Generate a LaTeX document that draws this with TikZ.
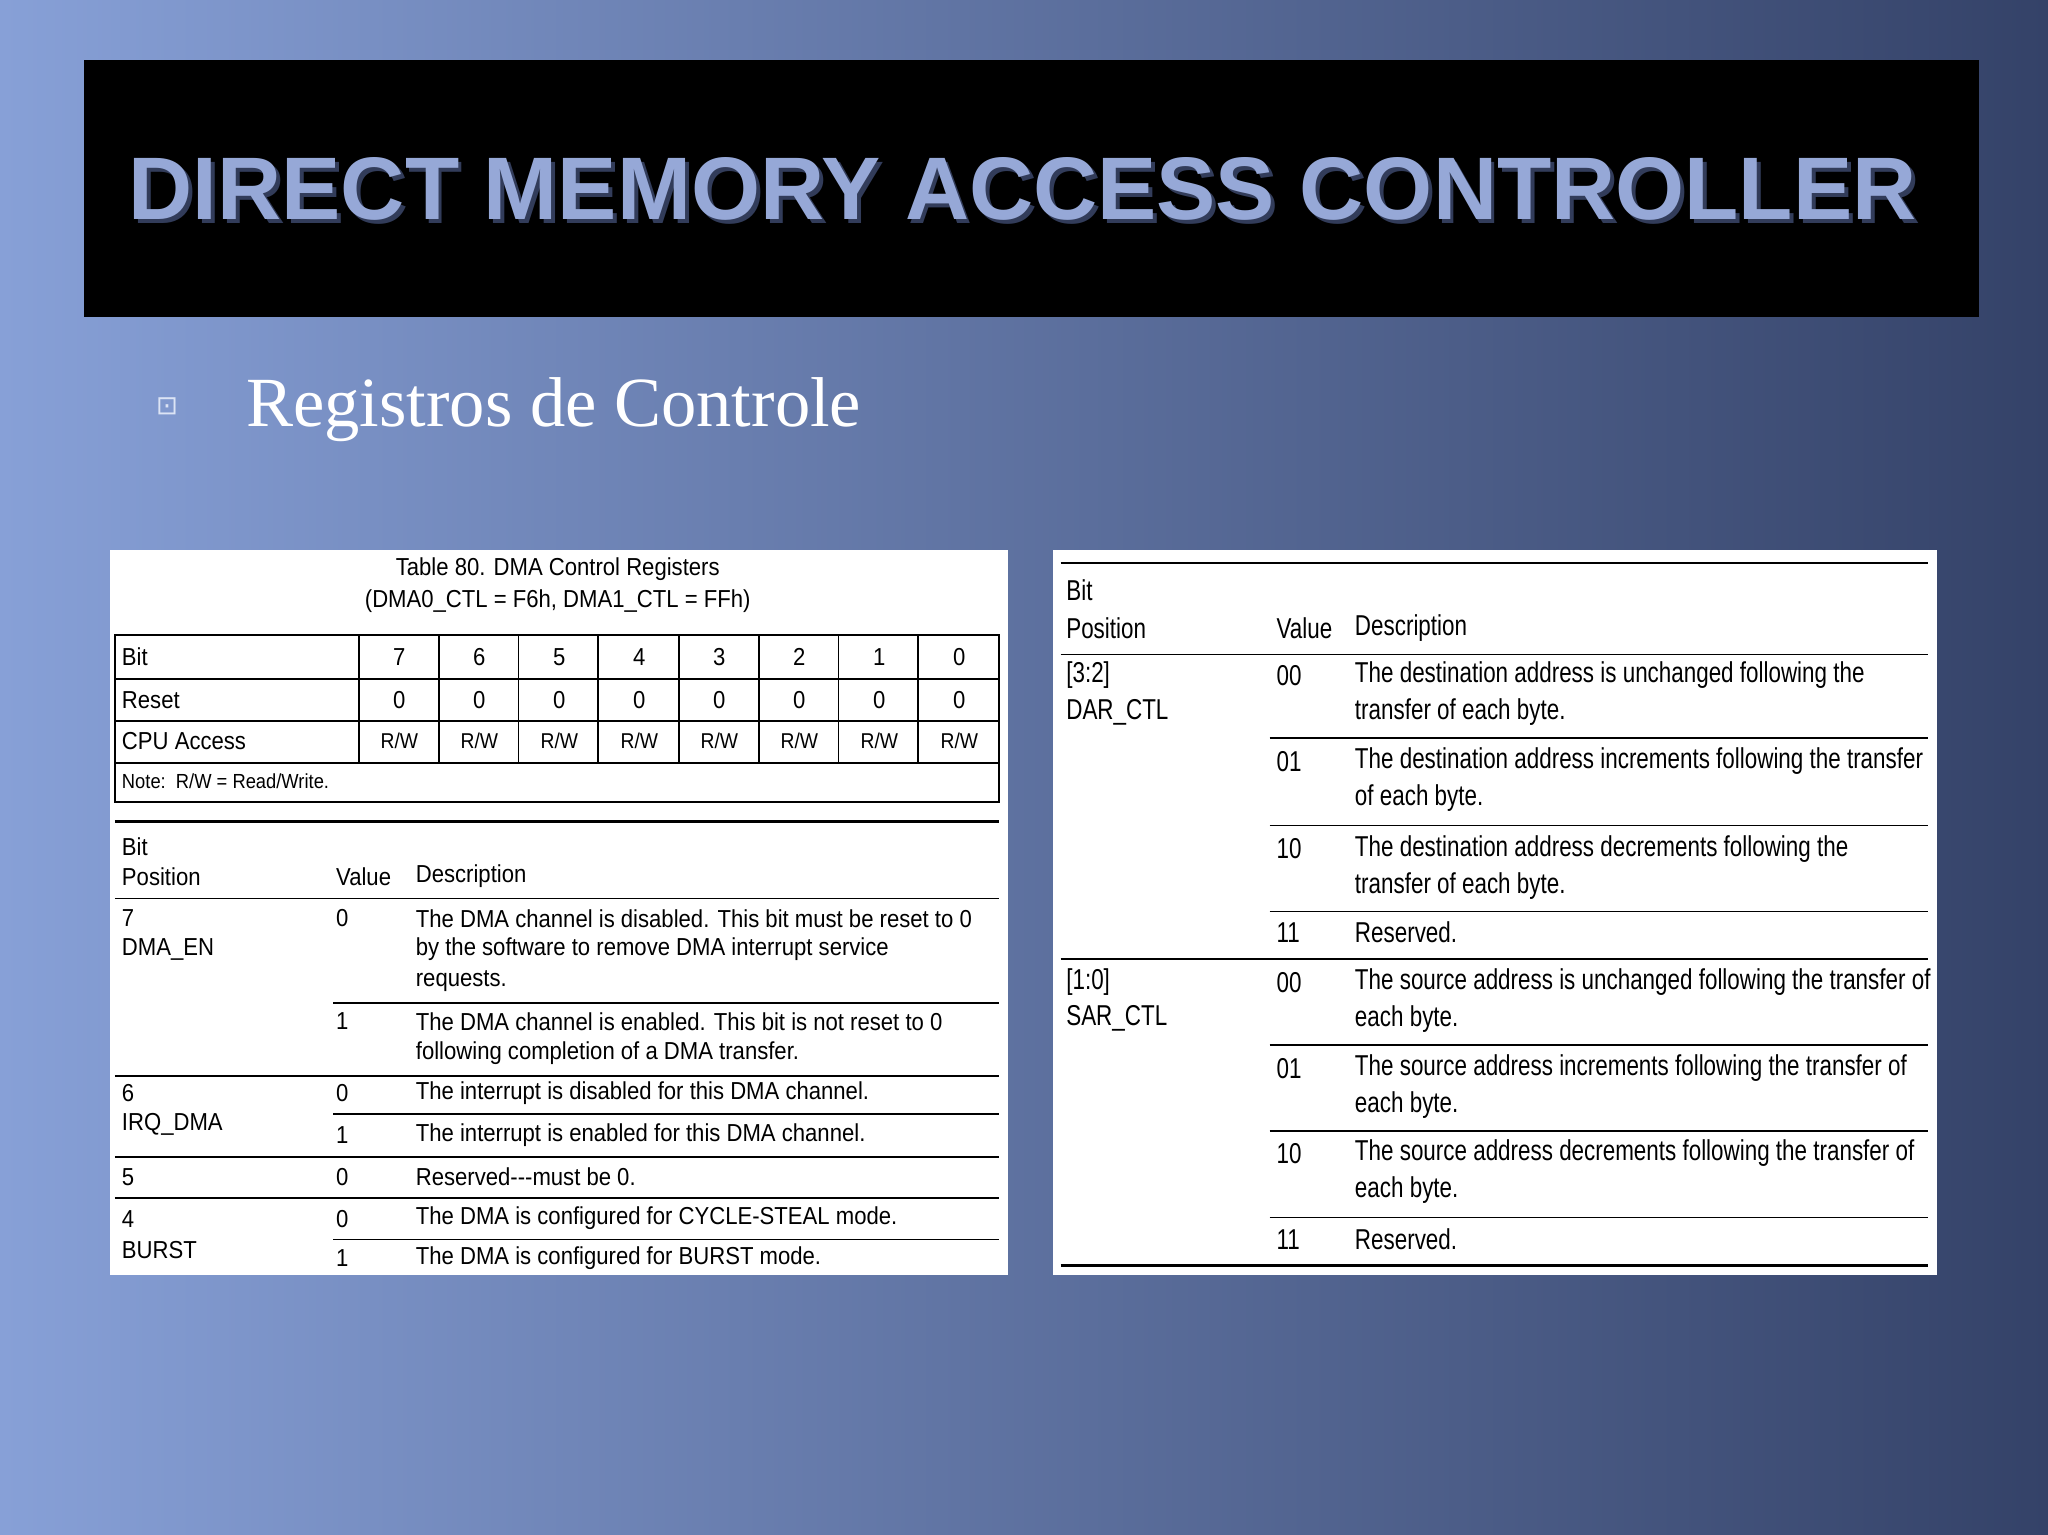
\documentclass[tikz,border=0pt]{standalone}
\usepackage{fontspec}
\setmainfont{Liberation Serif}
\newfontfamily\tabL[FakeStretch=0.9]{Liberation Sans}
\newfontfamily\tabR[FakeStretch=0.78]{Liberation Sans}
\newfontfamily\ttl{Liberation Sans}
\newfontfamily\dv{DejaVu Sans}
\begin{document}
\begin{tikzpicture}[x=0.5pt,y=-0.5pt,
  lt/.style={anchor=west,inner sep=0pt,font=\tabL\fontsize{9.4}{11}\selectfont,text=black},
  ltc/.style={lt,anchor=center},
  rt/.style={anchor=west,inner sep=0pt,font=\tabR\fontsize{11}{13}\selectfont,text=black},
  rl/.style={black,line width=0.6pt},
  rlt/.style={black,line width=1.1pt}]
\useasboundingbox (0,0) rectangle (1568,1175);
\shade[shading angle=-60,left color={rgb,255:red,135;green,160;blue,215},right color={rgb,255:red,52;green,66;blue,104}] (0,0) rectangle (1568,1175);
\fill[black] (64,46) rectangle (1515,243);
\node[text={rgb,255:red,50;green,60;blue,90},font=\ttl\bfseries\fontsize{34}{36}\selectfont] (ts) at (786,148) {DIRECT MEMORY ACCESS CONTROLLER};
\node[text={rgb,255:red,150;green,168;blue,215},font=\ttl\bfseries\fontsize{34}{36}\selectfont] (tt) at (783,145) {DIRECT MEMORY ACCESS CONTROLLER};
\node[text={rgb,255:red,220;green,228;blue,245},font=\dv\fontsize{10}{12}\selectfont] (bul) at (128,311) {⊡};
\node[anchor=west,text=white,font=\fontsize{27}{30}\selectfont,inner sep=0pt] (sub) at (188,314) {Registros de Controle};
% left box
\fill[white] (84,421) rectangle (772,976);
\node[ltc] (c1) at (427,436) {Table 80. DMA Control Registers};
\node[ltc] (c2) at (427,460) {(DMA0\_CTL = F6h, DMA1\_CTL = FFh)};
\draw[rl] (88,486) rectangle (765,614);
\foreach \yy in {520,552,584} \draw[rl] (88,\yy) -- (765,\yy);
\foreach \xx in {275,336,397,458,520,581,642,703} \draw[rl] (\xx,486) -- (\xx,584);
\node[lt] (bt) at (93,503) {Bit};
\node[lt] (rs) at (93,536) {Reset};
\node[lt] (ca) at (93,567) {CPU Access};
\foreach \b [count=\i] in {7,6,5,4,3,2,1,0}{
  \node[ltc] (b\i) at ({244.5+61.25*\i},503) {\b};
  \node[ltc] (r\i) at ({244.5+61.25*\i},536) {0};
  \node[ltc,font=\tabL\fontsize{8.2}{9}\selectfont] (a\i) at ({244.5+61.25*\i},567) {R/W};}
\node[lt,font=\tabL\fontsize{7.8}{9}\selectfont] (nt) at (93,598) {Note:\ \ R/W = Read/Write.};
\draw[rlt] (88,629) -- (765,629);
\foreach \yy in {688,824,886,917} \draw[rl] (88,\yy) -- (765,\yy);
\foreach \yy in {768,853,949} \draw[rl] (255,\yy) -- (765,\yy);
\node[lt] (h1) at (93,648) {Bit};
\node[lt] (h2) at (93,671) {Position};
\node[lt] (h3) at (257,671) {Value};
\node[lt] (h4) at (318,671) {Description};
\node[lt] (p7) at (93,703) {7};
\node[lt] (p7b) at (93,727) {DMA\_EN};
\node[lt] (v70) at (257,703) {0};
\node[lt] (d70a) at (318,703) {The DMA channel is disabled. This bit must be reset to 0};
\node[lt] (d70b) at (318,727) {by the software to remove DMA interrupt service};
\node[lt] (d70c) at (318,751) {requests.};
\node[lt] (v71) at (257,782) {1};
\node[lt] (d71a) at (318,782) {The DMA channel is enabled. This bit is not reset to 0};
\node[lt] (d71b) at (318,806) {following completion of a DMA transfer.};
\node[lt] (p6) at (93,837) {6};
\node[lt] (p6b) at (93,861) {IRQ\_DMA};
\node[lt] (v60) at (257,837) {0};
\node[lt] (d60) at (318,837) {The interrupt is disabled for this DMA channel.};
\node[lt] (v61) at (257,869) {1};
\node[lt] (d61) at (318,869) {The interrupt is enabled for this DMA channel.};
\node[lt] (p5) at (93,901) {5};
\node[lt] (v50) at (257,901) {0};
\node[lt] (d50) at (318,901) {Reserved---must be 0.};
\node[lt] (p4) at (93,933) {4};
\node[lt] (p4b) at (93,957) {BURST};
\node[lt] (v40) at (257,933) {0};
\node[lt] (d40) at (318,933) {The DMA is configured for CYCLE-STEAL mode.};
\node[lt] (v41) at (257,963) {1};
\node[lt] (d41) at (318,963) {The DMA is configured for BURST mode.};
% right box
\fill[white] (806,421) rectangle (1483,976);
\draw[rl] (812,431) -- (1476,431);
\foreach \yy in {501,734} \draw[rl] (812,\yy) -- (1476,\yy);
\draw[rlt] (812,969) -- (1476,969);
\foreach \yy in {565,632,698,800,866,932} \draw[rl] (972,\yy) -- (1476,\yy);
\node[rt] (rh1) at (816,452) {Bit};
\node[rt] (rh2) at (816,481) {Position};
\node[rt] (rh3) at (977,481) {Value};
\node[rt] (rh4) at (1037,481) {Description};
\node[rt] (q1) at (816,517) {[3:2]};
\node[rt] (q1b) at (816,545) {DAR\_CTL};
\node[rt] (q2) at (816,752) {[1:0]};
\node[rt] (q2b) at (816,780) {SAR\_CTL};
\node[rt] (e1) at (977,517) {00};
\node[rt] (f1a) at (1037,517) {The destination address is unchanged following the};
\node[rt] (f1b) at (1037,545) {transfer of each byte.};
\node[rt] (e2) at (977,583) {01};
\node[rt] (f2a) at (1037,583) {The destination address increments following the transfer};
\node[rt] (f2b) at (1037,611) {of each byte.};
\node[rt] (e3) at (977,650) {10};
\node[rt] (f3a) at (1037,650) {The destination address decrements following the};
\node[rt] (f3b) at (1037,678) {transfer of each byte.};
\node[rt] (e4) at (977,714) {11};
\node[rt] (f4) at (1037,714) {Reserved.};
\node[rt] (e5) at (977,752) {00};
\node[rt] (f5a) at (1037,752) {The source address is unchanged following the transfer of};
\node[rt] (f5b) at (1037,780) {each byte.};
\node[rt] (e6) at (977,818) {01};
\node[rt] (f6a) at (1037,818) {The source address increments following the transfer of};
\node[rt] (f6b) at (1037,846) {each byte.};
\node[rt] (e7) at (977,883) {10};
\node[rt] (f7a) at (1037,883) {The source address decrements following the transfer of};
\node[rt] (f7b) at (1037,911) {each byte.};
\node[rt] (e8) at (977,949) {11};
\node[rt] (f8) at (1037,949) {Reserved.};
\end{tikzpicture}
\end{document}
